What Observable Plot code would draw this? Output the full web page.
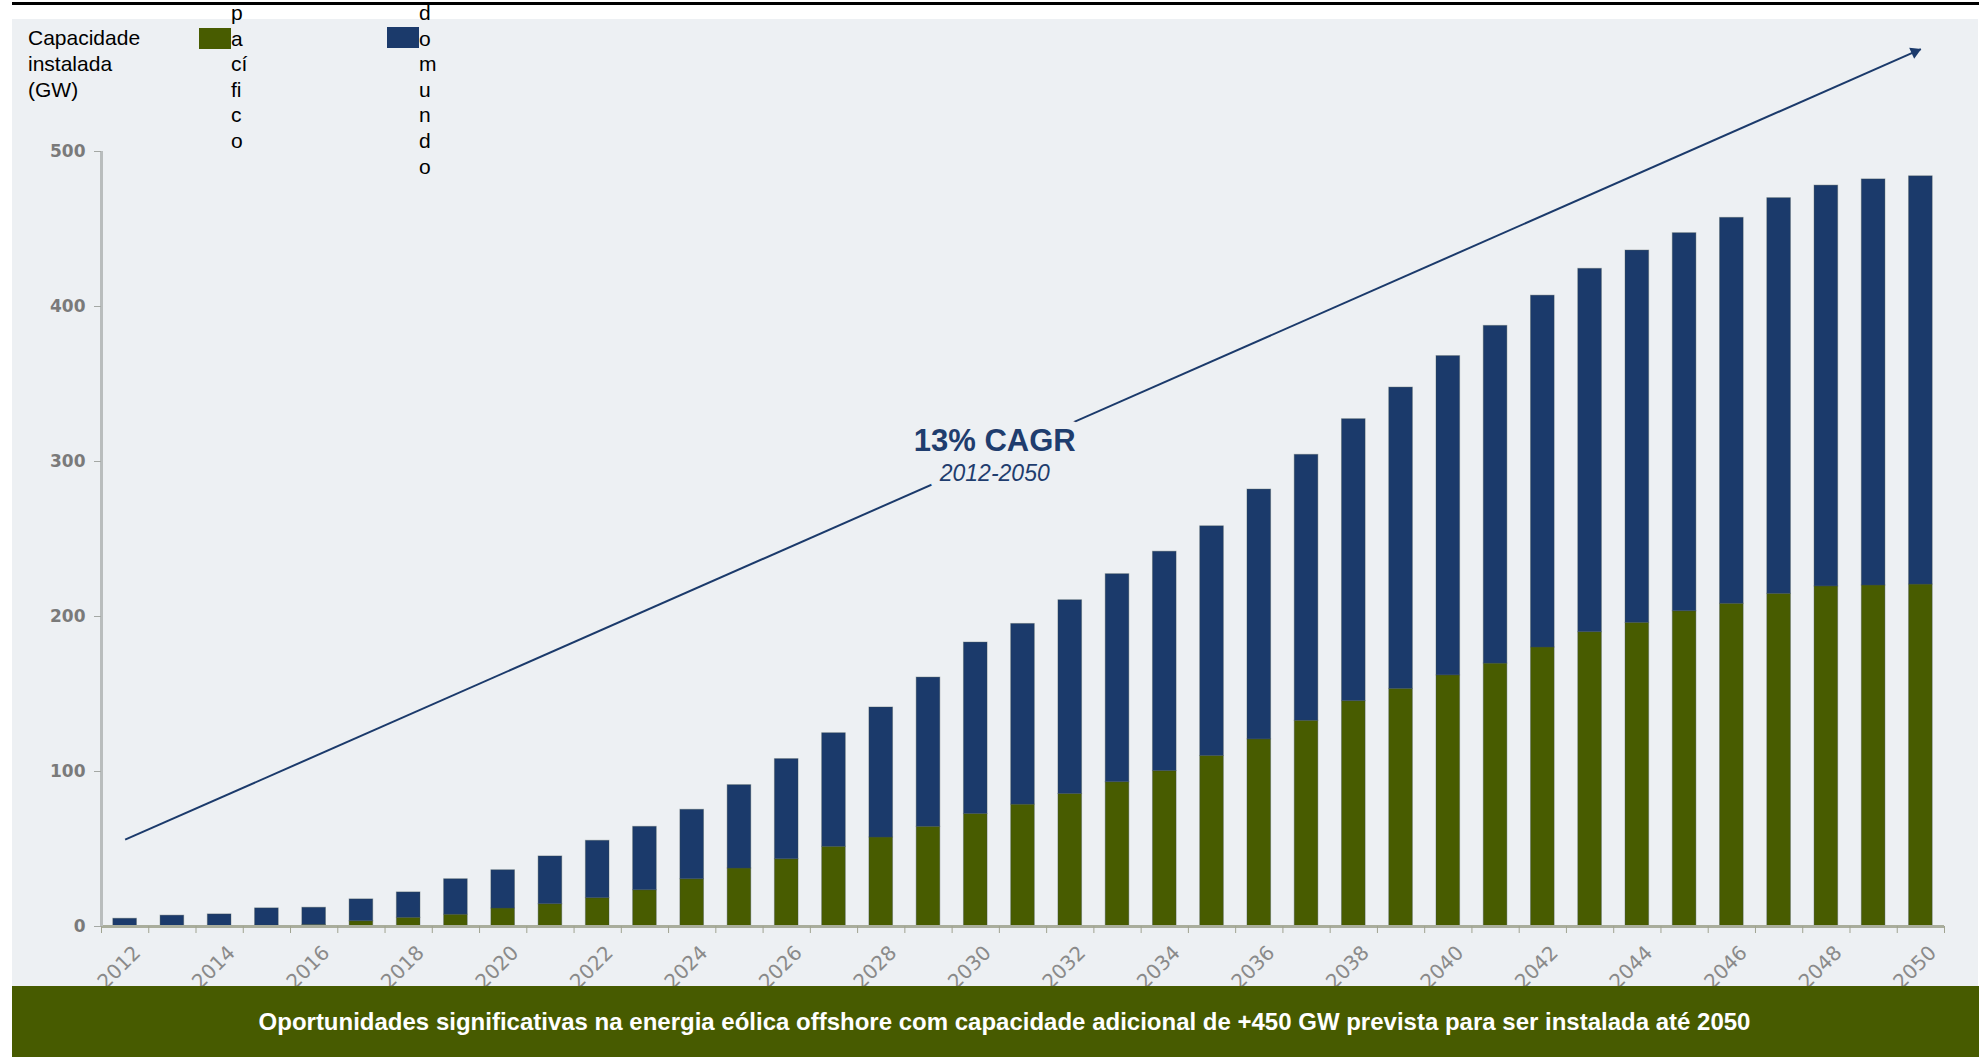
<!DOCTYPE html>
<html>
<head>
<meta charset="utf-8">
<script src="https://cdn.jsdelivr.net/npm/d3@7"></script>
<script src="https://cdn.jsdelivr.net/npm/@observablehq/plot@0.6"></script>
<style>
html, body { margin: 0; padding: 0; background: #ffffff; }
#page { position: relative; width: 1987px; height: 1057px; overflow: hidden; font-family: "Liberation Sans", Arial, sans-serif; }
#topline { position: absolute; left: 12px; top: 2px; width: 1967px; height: 3px; background: #000; }
#panel { position: absolute; left: 12px; top: 19px; width: 1966px; height: 967px; background: #edf0f3; }
#panel svg { position: absolute; left: 0; top: 0; overflow: visible; }
#ytitle { position: absolute; left: 28px; top: 25px; font-size: 21px; line-height: 26px; color: #000; z-index: 3; }
.swatch { position: absolute; width: 32px; height: 21px; z-index: 3; }
.legtext { position: absolute; top: 0; font-size: 21px; line-height: 25.6px; color: #000; z-index: 3; }
#banner { position: absolute; left: 12px; top: 986px; width: 1967px; height: 71px; background: #475b00; color: #fff; box-sizing: border-box; padding-left: 18px;
  font-weight: bold; font-size: 24px; display: flex; align-items: center; justify-content: center; z-index: 4; }
</style>
</head>
<body>
<div id="page">
  <div id="topline"></div>
  <div id="panel"></div>
  <div id="ytitle"></div>
  <div id="legend"></div>
  <div id="banner"></div>
</div>
<script>
// ---- data ----
const years = [2012, 2013, 2014, 2015, 2016, 2017, 2018, 2019, 2020, 2021,
  2022, 2023, 2024, 2025, 2026, 2027, 2028, 2029, 2030, 2031,
  2032, 2033, 2034, 2035, 2036, 2037, 2038, 2039, 2040, 2041,
  2042, 2043, 2044, 2045, 2046, 2047, 2048, 2049, 2050];
const labelYears = [2012, 2014, 2016, 2018, 2020, 2022, 2024, 2026, 2028, 2030,
  2032, 2034, 2036, 2038, 2040, 2042, 2044, 2046, 2048, 2050];
// green series (bottom)
const pacifico = [0.2, 0.2, 0.3, 0.5, 1.0, 3.4, 5.6, 7.6, 11.6, 14.4,
  18.3, 23.4, 30.5, 37.4, 43.4, 51.4, 57.4, 64.3, 72.6, 78.6,
  85.5, 93.1, 100.3, 110.0, 120.7, 132.7, 145.4, 153.3, 162.0, 169.6,
  180.0, 189.9, 195.9, 203.4, 208.2, 214.6, 219.4, 220.0, 220.6];
// blue series (top)
const doMundo = [4.8, 6.8, 7.5, 11.2, 11.1, 14.1, 16.4, 22.9, 24.7, 30.8,
  37.0, 40.9, 44.8, 53.8, 64.6, 73.3, 83.9, 96.3, 110.6, 116.6,
  125.0, 134.2, 141.5, 148.2, 161.2, 171.6, 181.9, 194.4, 206.0, 217.9,
  227.0, 234.4, 240.2, 243.9, 249.0, 255.3, 258.6, 262.0, 263.4];
const seriesNames = ["pacífico", "do mundo"];
const seriesColors = ["#485c00", "#1b3a6b"];
const legendLines = [["p", "a", "cí", "fi", "c", "o"], ["d", "o", "m", "u", "n", "d", "o"]];
const yTicks = [0, 100, 200, 300, 400, 500];
const yTitleLines = ["Capacidade", "instalada", "(GW)"];
const cagrTitle = "13% CAGR";
const cagrPeriod = "2012-2050";
const arrowStart = {year: 2012, gw: 56};
const arrowEnd = {year: 2050, gw: 566};
const bannerText = "Oportunidades significativas na energia eólica offshore com capacidade adicional de +450 GW prevista para ser instalada até 2050";

// ---- table ----
const rows = years.flatMap((yr, i) => [
  {year: yr, series: seriesNames[0], gw: pacifico[i]},
  {year: yr, series: seriesNames[1], gw: doMundo[i]}
]);

// ---- layout ----
const W = 1966, H = 967, mL = 89, mR = 34, mT = 132, mB = 60;
const step = (W - mL - mR) / years.length;
const blue = "#1b3a6b";
const panelBg = "#edf0f3";

const chart = Plot.plot({
  width: W, height: H,
  marginLeft: mL, marginRight: mR, marginTop: mT, marginBottom: mB,
  style: {background: "transparent", fontFamily: "'DejaVu Sans', sans-serif", overflow: "visible"},
  x: {type: "band", domain: years, paddingInner: 0.5, paddingOuter: 0.25, round: false},
  y: {domain: [0, 500]},
  color: {domain: seriesNames, range: seriesColors},
  marks: [
    Plot.barY(rows, {x: "year", y: "gw", fill: "series", stroke: "#3a4a4a", strokeOpacity: 0.35, strokeWidth: 1}),
    Plot.ruleY([0], {stroke: "#a9ad9c", strokeWidth: 3}),
    Plot.ruleX([years[0]], {y1: 0, y2: 500, dx: -step / 2, stroke: "#b9bdbd", strokeWidth: 3}),
    Plot.axisY({ticks: yTicks, tickSize: 7, tickPadding: 9, stroke: "#a4a8a4", fill: "#7a7a7a",
      fontSize: 17, fontWeight: "bold", label: null}),
    Plot.axisX({ticks: years, tickSize: 7, tickFormat: () => "", dx: -step / 2, stroke: "#a0a391", label: null}),
    Plot.axisX({ticks: [years[years.length - 1]], tickSize: 7, tickFormat: () => "", dx: step / 2, stroke: "#a0a391", label: null}),
    Plot.axisX({ticks: labelYears, tickSize: 0, tickPadding: 23, tickRotate: -45, tickFormat: d => String(d),
      fill: "#8a8a8a", fontSize: 20, dx: 12, label: null}),
    Plot.link([{a: arrowStart, b: arrowEnd}], {x1: d => d.a.year, y1: d => d.a.gw, x2: d => d.b.year, y2: d => d.b.gw,
      stroke: blue, strokeWidth: 2}),
    Plot.dot([arrowEnd], {x: "year", y: "gw", symbol: "triangle", r: 4.5, rotate: 66, fill: blue, stroke: "none",
      dx: -6, dy: 2.6}),
    Plot.text([cagrTitle], {x: () => 2030, y: () => 313.3, dx: 19, text: d => d, fontFamily: "'Liberation Sans', Arial, sans-serif",
      fontSize: 31, fontWeight: "bold", fill: "#1f3d6e", stroke: panelBg, strokeWidth: 18, lineAnchor: "middle"}),
    Plot.text([cagrPeriod], {x: () => 2030, y: () => 292.5, dx: 19, text: d => d, fontFamily: "'Liberation Sans', Arial, sans-serif",
      fontSize: 23, fontStyle: "italic", fill: "#1f3d6e", stroke: panelBg, strokeWidth: 18, lineAnchor: "middle"})
  ]
});
document.getElementById("panel").appendChild(chart);

// ---- title, legend, banner ----
document.getElementById("ytitle").innerHTML = yTitleLines.join("<br>");
const legend = document.getElementById("legend");
const swatchPos = [{sx: 199, sy: 28, tx: 231}, {sx: 387, sy: 27, tx: 419}];
seriesNames.forEach((name, i) => {
  const sw = document.createElement("div");
  sw.className = "swatch";
  sw.style.left = swatchPos[i].sx + "px";
  sw.style.top = swatchPos[i].sy + "px";
  sw.style.background = seriesColors[i];
  legend.appendChild(sw);
  const tx = document.createElement("div");
  tx.className = "legtext";
  tx.style.left = swatchPos[i].tx + "px";
  tx.innerHTML = legendLines[i].join("<br>");
  legend.appendChild(tx);
});
document.getElementById("banner").textContent = bannerText;
</script>
</body>
</html>
